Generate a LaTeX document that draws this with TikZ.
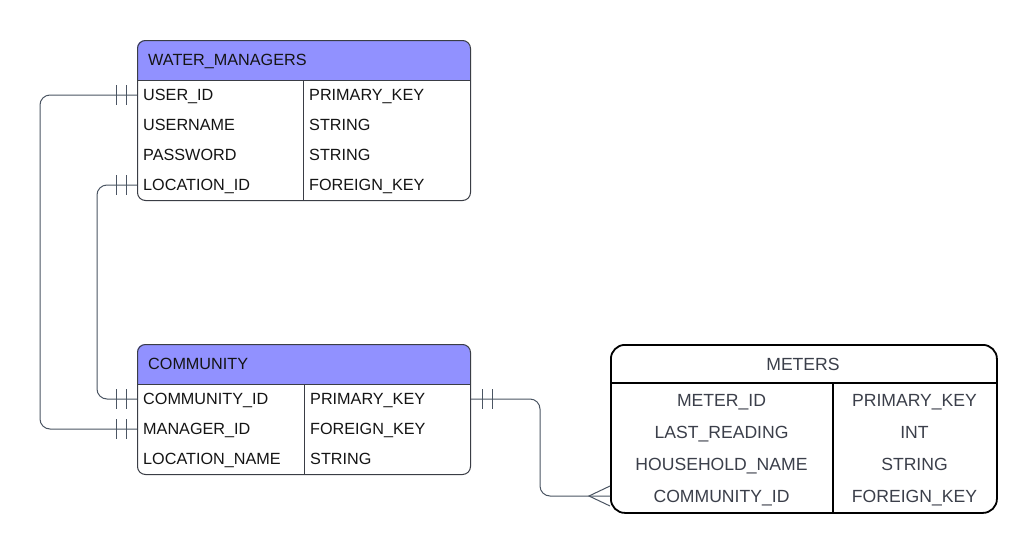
\documentclass[tikz,border=0pt]{standalone}
\usepackage{fontspec}
\setmainfont{Liberation Sans}
\usetikzlibrary{calc}
\definecolor{hdr}{HTML}{9191FF}
\definecolor{tborder}{HTML}{3A3D45}
\definecolor{connc}{HTML}{4B5563}
\definecolor{mtext}{HTML}{3B3F4A}
\begin{document}
\begin{tikzpicture}[x=1pt,y=-1pt,
  txt/.style={font=\fontsize{16.2}{19}\selectfont, text=black!92, inner sep=0pt, text height=11.6pt, text depth=0pt, anchor=west},
  mtxt/.style={font=\fontsize{17.6}{20}\selectfont, text=mtext, inner sep=0pt, text height=12.6pt, text depth=0pt},
  tbl/.style={draw=tborder, line width=1pt, rounded corners=8pt, inner sep=0pt, anchor=north west},
  mtbl/.style={draw=black, line width=1.8pt, rounded corners=14pt, inner sep=0pt, anchor=north west},
  conn/.style={draw=connc, line width=1pt},
  rule/.style={draw=tborder, line width=1pt},
  mrule/.style={draw=black, line width=1.6pt}
]
\fill[white] (0,0) rectangle (1035,552);
\useasboundingbox (0,0) rectangle (1035,552);

% WATER_MANAGERS
\fill[hdr, rounded corners=8pt] (137,40) rectangle (470,80);
\fill[hdr] (137.5,68) rectangle (469.5,80);
\node[tbl, minimum width=333pt, minimum height=160pt] (wm) at (137,40) {};
\draw[rule] (wm.west |- 0,80) -- (wm.east |- 0,80);
\draw[rule] (303,80) -- (303,200);
\node[txt] (wmh) at (148,60) {WATER\_MANAGERS};
\node[txt] (wuser) at (143,95) {USER\_ID};
\node[txt] (wuname) at (143,125) {USERNAME};
\node[txt] (wpass) at (143,155) {PASSWORD};
\node[txt] (wloc) at (143,185) {LOCATION\_ID};
\node[txt] (wuserT) at (309,95) {PRIMARY\_KEY};
\node[txt] (wunameT) at (309,125) {STRING};
\node[txt] (wpassT) at (309,155) {STRING};
\node[txt] (wlocT) at (309,185) {FOREIGN\_KEY};

% COMMUNITY
\fill[hdr, rounded corners=8pt] (137,344) rectangle (470,384);
\fill[hdr] (137.5,372) rectangle (469.5,384);
\node[tbl, minimum width=333pt, minimum height=130pt] (cm) at (137,344) {};
\draw[rule] (cm.west |- 0,384) -- (cm.east |- 0,384);
\draw[rule] (304,384) -- (304,474);
\node[txt] (cmh) at (148,364) {COMMUNITY};
\node[txt] (ccid) at (143,399) {COMMUNITY\_ID};
\node[txt] (cmgr) at (143,429) {MANAGER\_ID};
\node[txt] (clname) at (143,459) {LOCATION\_NAME};
\node[txt] (ccidT) at (310,399) {PRIMARY\_KEY};
\node[txt] (cmgrT) at (310,429) {FOREIGN\_KEY};
\node[txt] (clnameT) at (310,459) {STRING};

% METERS
\node[mtbl, minimum width=386pt, minimum height=168pt] (mt) at (610,344) {};
\draw[mrule] (mt.west |- 0,383) -- (mt.east |- 0,383);
\draw[mrule] (833,383) -- (833,512);
\node[mtxt] (mth) at (803,364) {METERS};
\node[mtxt] (mmid) at (721.5,400) {METER\_ID};
\node[mtxt] (mlast) at (721.5,432) {LAST\_READING};
\node[mtxt] (mhh) at (721.5,464) {HOUSEHOLD\_NAME};
\node[mtxt] (mcid) at (721.5,496) {COMMUNITY\_ID};
\node[mtxt] (mmidT) at (914.5,400) {PRIMARY\_KEY};
\node[mtxt] (mlastT) at (914.5,432) {INT};
\node[mtxt] (mhhT) at (914.5,464) {STRING};
\node[mtxt] (mcidT) at (914.5,496) {FOREIGN\_KEY};

% connector anchor points
\coordinate (a1) at (wm.west |- wuser);
\coordinate (b1) at (cm.west |- cmgr);
\coordinate (a2) at (wm.west |- wloc);
\coordinate (b2) at (cm.west |- ccid);
\coordinate (a3) at (cm.east |- ccid);
\coordinate (b3) at (mt.west |- mcid);
\coordinate (r1) at (40,0);
\coordinate (r2) at (97,0);
\coordinate (r3) at (540,0);

% connectors
\draw[conn, rounded corners=10pt] (a1) -| (r1 |- b1) -- (b1);
\draw[conn, rounded corners=10pt] (a2) -| (r2 |- b2) -- (b2);
\draw[conn, rounded corners=10pt] (a3) -| (r3 |- b3) -- (b3);

% one-bars
\foreach \p in {a1,b1,a2,b2}{
  \draw[conn] ([xshift=-21pt]\p) ++(0,-10) -- ++(0,20);
  \draw[conn] ([xshift=-11pt]\p) ++(0,-10) -- ++(0,20);
}
\draw[conn] ([xshift=11pt]a3) ++(0,-10) -- ++(0,20);
\draw[conn] ([xshift=21pt]a3) ++(0,-10) -- ++(0,20);

% crow's foot
\draw[conn] (b3) ++(0,-10) -- ([xshift=-21pt]b3) -- ++(21,10);
\end{tikzpicture}
\end{document}
